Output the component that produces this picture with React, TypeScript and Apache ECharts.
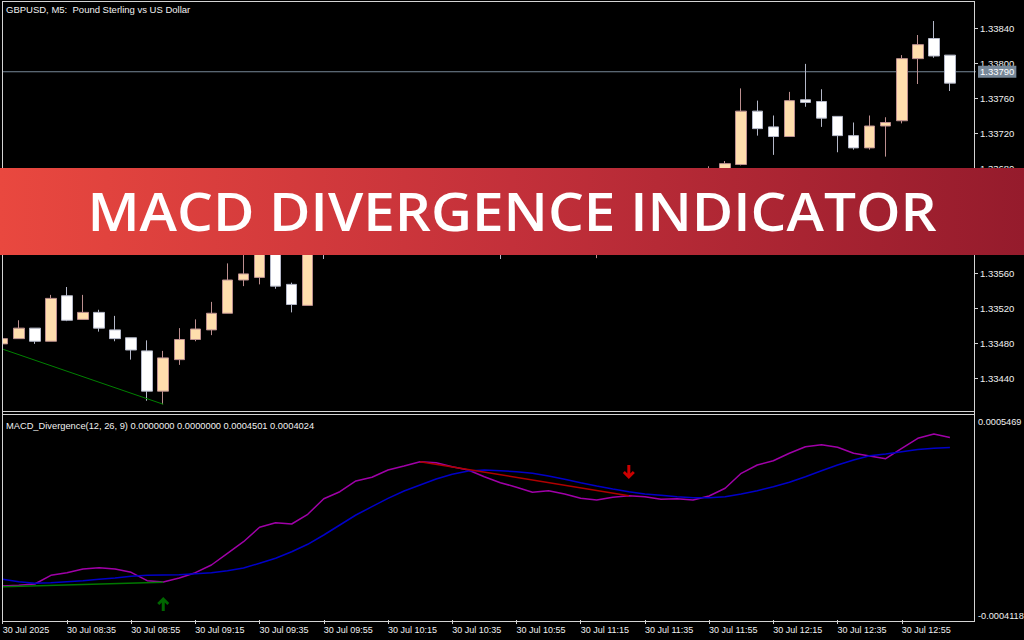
import React, { useEffect, useRef } from "react";
import * as echarts from "echarts";

// ---- categories (M5 bars, 30 Jul 2025) ----
const categories = [
  "30 Jul 08:15", "30 Jul 08:20", "30 Jul 08:25", "30 Jul 08:30", "30 Jul 08:35", "30 Jul 08:40",
  "30 Jul 08:45", "30 Jul 08:50", "30 Jul 08:55", "30 Jul 09:00", "30 Jul 09:05", "30 Jul 09:10",
  "30 Jul 09:15", "30 Jul 09:20", "30 Jul 09:25", "30 Jul 09:30", "30 Jul 09:35", "30 Jul 09:40",
  "30 Jul 09:45", "30 Jul 09:50", "30 Jul 09:55", "30 Jul 10:00", "30 Jul 10:05", "30 Jul 10:10",
  "30 Jul 10:15", "30 Jul 10:20", "30 Jul 10:25", "30 Jul 10:30", "30 Jul 10:35", "30 Jul 10:40",
  "30 Jul 10:45", "30 Jul 10:50", "30 Jul 10:55", "30 Jul 11:00", "30 Jul 11:05", "30 Jul 11:10",
  "30 Jul 11:15", "30 Jul 11:20", "30 Jul 11:25", "30 Jul 11:30", "30 Jul 11:35", "30 Jul 11:40",
  "30 Jul 11:45", "30 Jul 11:50", "30 Jul 11:55", "30 Jul 12:00", "30 Jul 12:05", "30 Jul 12:10",
  "30 Jul 12:15", "30 Jul 12:20", "30 Jul 12:25", "30 Jul 12:30", "30 Jul 12:35", "30 Jul 12:40",
  "30 Jul 12:45", "30 Jul 12:50", "30 Jul 12:55", "30 Jul 13:00", "30 Jul 13:05", "30 Jul 13:10",
  "30 Jul 13:15",
];
const firstDateLabel = "30 Jul 2025";

// ---- GBPUSD M5 OHLC ----
const opens = [
  1.33479, 1.33485, 1.33497, 1.33482, 1.33534, 1.33507, 1.33515, 1.33495, 1.33486, 1.33471,
  1.33425, 1.33461, 1.33484, 1.33495, 1.33514, 1.33552, 1.33555, 1.33603, 1.33547, 1.33523,
  1.33626, 1.33605, 1.33642, 1.33630, 1.33660, 1.33665, 1.33648, 1.33662, 1.33636, 1.33622,
  1.33638, 1.33612, 1.33600, 1.33628, 1.33615, 1.33632, 1.33618, 1.33605, 1.33615, 1.33630,
  1.33618, 1.33635, 1.33645, 1.33638, 1.33656, 1.33666, 1.33684, 1.33745, 1.33727, 1.33716,
  1.33758, 1.33756, 1.33739, 1.33717, 1.33703, 1.33728, 1.33734, 1.33805, 1.33828, 1.33809,
];
const highs = [
  1.33486, 1.33506, 1.33497, 1.33535, 1.33544, 1.33535, 1.33518, 1.33511, 1.33486, 1.33483,
  1.33471, 1.33497, 1.33507, 1.33527, 1.33571, 1.33592, 1.33598, 1.33609, 1.33549, 1.33632,
  1.33640, 1.33650, 1.33660, 1.33668, 1.33672, 1.33674, 1.33670, 1.33668, 1.33648, 1.33645,
  1.33650, 1.33625, 1.33635, 1.33640, 1.33642, 1.33645, 1.33630, 1.33625, 1.33638, 1.33640,
  1.33640, 1.33652, 1.33655, 1.33662, 1.33682, 1.33688, 1.33771, 1.33757, 1.33740, 1.33767,
  1.33799, 1.33770, 1.33739, 1.33732, 1.33740, 1.33738, 1.33809, 1.33832, 1.33848, 1.33809,
];
const lows = [
  1.33478, 1.33485, 1.33479, 1.33482, 1.33505, 1.33507, 1.33493, 1.33482, 1.33461, 1.33414,
  1.33410, 1.33455, 1.33482, 1.33489, 1.33514, 1.33545, 1.33547, 1.33542, 1.33515, 1.33523,
  1.33576, 1.33600, 1.33620, 1.33625, 1.33640, 1.33640, 1.33638, 1.33630, 1.33615, 1.33610,
  1.33605, 1.33576, 1.33595, 1.33605, 1.33608, 1.33610, 1.33598, 1.33577, 1.33605, 1.33608,
  1.33612, 1.33625, 1.33628, 1.33632, 1.33648, 1.33660, 1.33683, 1.33717, 1.33695, 1.33716,
  1.33750, 1.33727, 1.33698, 1.33701, 1.33701, 1.33693, 1.33731, 1.33776, 1.33806, 1.33768,
];
const closes = [
  1.33485, 1.33497, 1.33482, 1.33531, 1.33506, 1.33515, 1.33497, 1.33485, 1.33472, 1.33425,
  1.33463, 1.33484, 1.33496, 1.33514, 1.33552, 1.33559, 1.33591, 1.33545, 1.33524, 1.33626,
  1.33605, 1.33642, 1.33630, 1.33660, 1.33665, 1.33648, 1.33662, 1.33636, 1.33622, 1.33638,
  1.33612, 1.33600, 1.33628, 1.33615, 1.33632, 1.33618, 1.33605, 1.33615, 1.33630, 1.33618,
  1.33635, 1.33645, 1.33638, 1.33656, 1.33666, 1.33685, 1.33745, 1.33725, 1.33716, 1.33757,
  1.33755, 1.33737, 1.33717, 1.33703, 1.33728, 1.33732, 1.33805, 1.33821, 1.33808, 1.33777,
];
const bidPrice = 1.3379;
const bidLine = [[-1, bidPrice], [61, bidPrice]];
const priceDivergence = [[0, 1.33473], [10, 1.3341]];

// ---- MACD_Divergence(12, 26, 9) ----
const macdLine = [
  -0.0002512, -0.0002479, -0.0002418, -0.0002007, -0.0001884, -0.000171, -0.0001648, -0.000171, -0.0001865, -0.0002262,
  -0.0002324, -0.0002135, -0.0001884, -0.0001521, -0.0000968, -0.000042, 0.000026, 0.0000477, 0.0000416, 0.0000874,
  0.0001611, 0.0001941, 0.0002447, 0.0002621, 0.0002966, 0.0003155, 0.0003358, 0.0003311, 0.0003122, 0.0002966,
  0.000265, 0.0002366, 0.0002154, 0.0001913, 0.0001988, 0.0001833, 0.0001629, 0.0001549, 0.0001677, 0.0001752,
  0.0001705, 0.0001582, 0.0001611, 0.0001549, 0.0001738, 0.0002102, 0.000281, 0.0003202, 0.0003405, 0.0003755,
  0.0004066, 0.0004161, 0.0004038, 0.0003755, 0.0003627, 0.00035, 0.0003991, 0.0004463, 0.0004666, 0.0004501,
];
const signalLine = [
  -0.0002196, -0.0002309, -0.0002385, -0.0002357, -0.0002309, -0.0002262, -0.0002196, -0.0002135, -0.0002054, -0.0002007,
  -0.0001993, -0.0001979, -0.0001932, -0.0001884, -0.000179, -0.0001662, -0.000144, -0.0001204, -0.0000893, -0.0000543,
  -0.0000104, 0.0000369, 0.0000841, 0.0001233, 0.0001629, 0.0001974, 0.0002258, 0.0002541, 0.0002763, 0.0002919,
  0.0002966, 0.0002933, 0.0002886, 0.000281, 0.0002683, 0.0002527, 0.0002366, 0.000221, 0.0002069, 0.0001941,
  0.0001833, 0.0001771, 0.0001705, 0.0001658, 0.0001658, 0.0001705, 0.0001833, 0.0001988, 0.0002177, 0.0002385,
  0.000265, 0.0002933, 0.0003202, 0.0003438, 0.0003641, 0.0003722, 0.000383, 0.000393, 0.000399, 0.0004024,
];
const macdBullDivergence = [[0, -0.0002545], [10, -0.000233]];
const macdBearDivergence = [[26, 0.0003358], [39, 0.0001752]];
const buySignals = [[10, -0.0003362]];
const sellSignals = [[39, 0.0002871]];
const macdMax = 0.0005469;
const macdMin = -0.0004118;

const titleText = "GBPUSD, M5:  Pound Sterling vs US Dollar";
const macdText = "MACD_Divergence(12, 26, 9) 0.0000000 0.0000000 0.0004501 0.0004024";
const bannerText = "MACD DIVERGENCE INDICATOR";

const FONT = "Liberation Sans";
const FRAME = "#d4d4d4";
const TEXT = "#f0f0f0";
const ARROW = "path://M6,0 L12,6 L10,8 L7.5,5.5 L7.5,14 L4.5,14 L4.5,5.5 L2,8 L0,6 Z";

export default function App() {
  const ref = useRef<HTMLDivElement>(null);
  useEffect(() => {
    if (!ref.current) return;
    const chart = echarts.init(ref.current, undefined, { renderer: "svg" });
    const labelEvery = (i: number) => i % 4 === 0 && i < 60;
    const line = (x1: number, y1: number, x2: number, y2: number) => ({
      type: "line",
      z: 50,
      silent: true,
      shape: { x1, y1, x2, y2 },
      style: { stroke: FRAME, lineWidth: 1 },
    });
    const option: any = {
      animation: false,
      backgroundColor: "#000000",
      textStyle: { fontFamily: FONT },
      title: [
        { text: titleText, left: 6, top: 4, padding: 0, textStyle: { color: TEXT, fontSize: 9.5, fontWeight: "normal", fontFamily: FONT } },
        { text: macdText, left: 6, top: 421, padding: 0, textStyle: { color: TEXT, fontSize: 9.3, fontWeight: "normal", fontFamily: FONT } },
      ],
      grid: [
        { left: -5.33, right: 50, top: -7, height: 420, containLabel: false, outerBoundsMode: "none" },
        { left: -5.33, right: 50, top: 417, height: 203, containLabel: false, outerBoundsMode: "none" },
      ],
      xAxis: [
        { type: "category", gridIndex: 0, data: categories, boundaryGap: true, show: false, axisLine: { onZero: false } },
        {
          type: "category", gridIndex: 1, data: categories, boundaryGap: true,
          axisLine: { show: false, onZero: false },
          axisTick: { show: true, interval: labelEvery, alignWithLabel: true, length: 4, lineStyle: { color: FRAME } },
          axisLabel: {
            interval: labelEvery, align: "left", margin: 5, color: TEXT, fontSize: 9, fontFamily: FONT,
            formatter: (v: string, i: number) => (i === 0 ? firstDateLabel : v),
          },
          splitLine: { show: false },
        },
      ],
      yAxis: [
        {
          type: "value", gridIndex: 0, position: "right", min: 1.334, max: 1.3388, interval: 0.0004,
          axisLine: { show: false },
          axisTick: { show: true, length: 4, lineStyle: { color: FRAME } },
          axisLabel: { formatter: (v: number) => v.toFixed(5), margin: 6, color: TEXT, fontSize: 9.5, fontFamily: FONT, showMinLabel: false, showMaxLabel: false },
          splitLine: { show: false },
        },
        {
          type: "value", gridIndex: 1, position: "right", min: macdMin, max: macdMax,
          axisLine: { show: false },
          axisTick: { show: false },
          axisLabel: {
            formatter: (v: number) => (Math.abs(v - macdMax) < 1e-10 || Math.abs(v - macdMin) < 1e-10 ? v.toFixed(7) : ""),
            showMinLabel: true, showMaxLabel: true, margin: 4, color: TEXT, fontSize: 9.2, fontFamily: FONT,
            verticalAlignMaxLabel: "top", verticalAlignMinLabel: "bottom",
          },
          splitLine: { show: false },
        },
      ],
      series: [
        {
          type: "line", xAxisIndex: 0, yAxisIndex: 0, data: bidLine, symbol: "none", clip: true, z: 1,
          lineStyle: { color: "#778899", width: 1 },
          endLabel: {
            show: true, formatter: bidPrice.toFixed(5), backgroundColor: "#778899", color: "#ffffff",
            padding: [1, 2], fontSize: 9.5, fontFamily: FONT, distance: 2,
          },
        },
        {
          type: "candlestick", xAxisIndex: 0, yAxisIndex: 0, barWidth: 11,
          data: opens.map((o, i) => [o, closes[i], lows[i], highs[i]]),
          itemStyle: { color: "#ffdead", color0: "#ffffff", borderColor: "#bc8f8f", borderColor0: "#b4b8c8", borderWidth: 1 },
        },
        {
          type: "line", xAxisIndex: 0, yAxisIndex: 0, data: priceDivergence, symbol: "none",
          lineStyle: { color: "#008000", width: 1 },
        },
        {
          type: "line", xAxisIndex: 1, yAxisIndex: 1, data: macdLine, symbol: "none",
          lineStyle: { color: "#a000a8", width: 1.5 },
        },
        {
          type: "line", xAxisIndex: 1, yAxisIndex: 1, data: signalLine, symbol: "none",
          lineStyle: { color: "#0000c8", width: 1.5 },
        },
        {
          type: "line", xAxisIndex: 1, yAxisIndex: 1, data: macdBullDivergence, symbol: "none",
          lineStyle: { color: "#007800", width: 1.5 },
        },
        {
          type: "line", xAxisIndex: 1, yAxisIndex: 1, data: macdBearDivergence, symbol: "none",
          lineStyle: { color: "#b00000", width: 1.5 },
        },
        {
          type: "scatter", xAxisIndex: 1, yAxisIndex: 1, data: buySignals, symbol: ARROW, symbolSize: [12, 14],
          itemStyle: { color: "#008000" },
        },
        {
          type: "scatter", xAxisIndex: 1, yAxisIndex: 1, data: sellSignals, symbol: ARROW, symbolSize: [12, 14], symbolRotate: 180,
          itemStyle: { color: "#ff0000" },
        },
      ],
      graphic: [
        { type: "rect", z: 49, silent: true, shape: { x: 0, y: 0, width: 2, height: 640 }, style: { fill: "#000000" } },
        line(2, 1.5, 974.5, 1.5),
        line(2.5, 1, 2.5, 622),
        line(974.5, 1, 974.5, 622),
        line(2, 411.5, 974.5, 411.5),
        line(2, 414.5, 974.5, 414.5),
        line(2, 621.5, 974.5, 621.5),
        {
          type: "rect", z: 100, silent: true,
          shape: { x: 0, y: 168, width: 1024, height: 87 },
          style: {
            fill: new echarts.graphic.LinearGradient(0, 0, 1, 0, [
              { offset: 0, color: "#e9483f" },
              { offset: 0.5, color: "#c3303a" },
              { offset: 1, color: "#951b2c" },
            ]),
          },
        },
        {
          type: "text", z: 101, silent: true, x: 512, y: 210.5, scaleX: 1.089,
          style: {
            text: bannerText, fill: "#ffffff", fontSize: 52, fontWeight: 600, fontFamily: "Open Sans",
            align: "center", verticalAlign: "middle",
          },
        },
      ],
    };
    chart.setOption(option);
    return () => chart.dispose();
  }, []);
  return <div ref={ref} style={{ position: "absolute", left: 0, top: 0, width: 1024, height: 640, background: "#000" }} />;
}
